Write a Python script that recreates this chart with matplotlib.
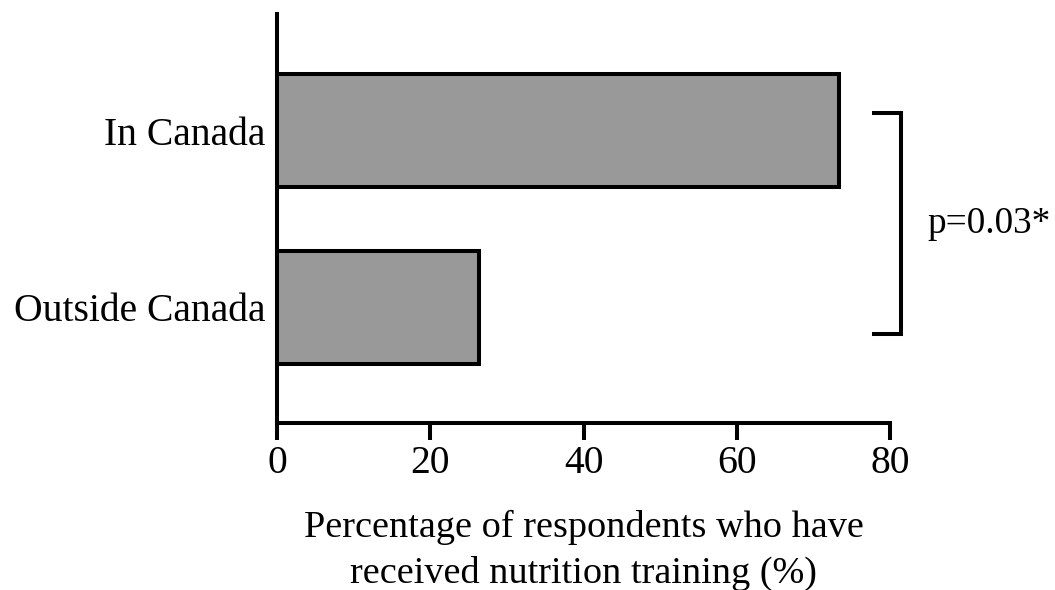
"""Horizontal bar chart of nutrition training by country of training."""

import matplotlib.pyplot as plt

plt.rcParams['font.family'] = ['Liberation Serif', 'DejaVu Serif']

groups = ['Outside Canada', 'In Canada']
percentages = [26.3, 73.3]
p_label = 'p=0.03*'


def main():
    fig = plt.figure(figsize=(10.55, 5.9), dpi=100)
    ax = fig.add_axes([0.2626, 0.283, 0.581, 0.693])

    positions = range(len(groups))
    ax.barh(positions, percentages, height=0.635, color='#999999',
            edgecolor='black', linewidth=2.9, zorder=3)

    ax.set_xlim(0, 80)
    ax.set_ylim(-0.653, 1.658)
    ax.set_xticks([0, 20, 40, 60, 80])
    ax.set_yticks(list(positions))
    ax.set_yticklabels(groups)

    for side in ('top', 'right'):
        ax.spines[side].set_visible(False)
    for side in ('left', 'bottom'):
        ax.spines[side].set_linewidth(2.9)

    ax.tick_params(axis='x', length=12, width=2.9, labelsize=28.5, pad=4)
    ax.tick_params(axis='y', length=0, labelsize=28.5, pad=8.6)

    ax.set_xlabel('Percentage of respondents who have\nreceived nutrition training (%)',
                  fontsize=27.5, labelpad=20, linespacing=1.38)

    # significance bracket spanning both bars
    bx_in, bx_out = 77.6, 81.5
    y_top, y_bot = 1.099, -0.15
    ax.plot([bx_in, bx_out, bx_out, bx_in], [y_top, y_top, y_bot, y_bot],
            color='black', linewidth=2.9, clip_on=False,
            solid_capstyle='butt', solid_joinstyle='miter')
    ax.text(84.9, (y_top + y_bot) / 2, p_label, fontsize=26.8,
            ha='left', va='center', clip_on=False)

    fig.savefig('out.png', dpi=100)
    plt.close(fig)


if __name__ == '__main__':
    main()
